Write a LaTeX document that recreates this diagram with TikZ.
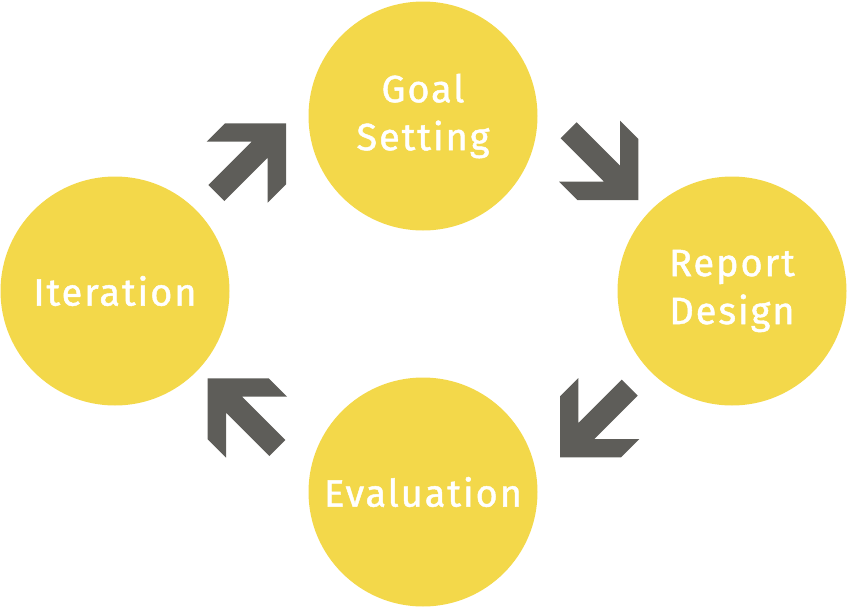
\documentclass[tikz,border=0pt]{standalone}
\usepackage{fontspec}
\setmainfont{Fira Sans}[LetterSpace=5, FakeBold=1.2]
\definecolor{cyellow}{HTML}{F3D84A}
\definecolor{cgray}{HTML}{5E5D59}
\tikzset{
  stage/.style={circle, fill=cyellow, minimum size=229pt, inner sep=0pt,
    text=white, align=center, font=\fontsize{38}{48}\selectfont},
  chev/.pic={
    \fill[cgray] (0,0) -- (-61,0) -- (-79.3,18.3) -- (-34.3,18.3) -- (-77.7,61.7)
      -- (-61.7,77.7) -- (-18.3,34.3) -- (-18.3,79.3) -- (0,61) -- cycle;
  }
}
\begin{document}
\begin{tikzpicture}[x=1pt,y=-1pt]
\useasboundingbox (0,0) rectangle (847,608);
\node[stage] (goal) at (423,116) {Goal\\Setting};
\node[stage] (report) at (732,291) {Report\\Design};
\node[stage] (eval) at (423,492) {Evaluation};
\node[stage] (iter) at (115,291) {Iteration};
\pic at (286,123.3) {chev};
\pic[rotate=-90] at (638.3,200) {chev};
\pic[rotate=180] at (560,457.3) {chev};
\pic[rotate=90] at (207.7,378.3) {chev};
\end{tikzpicture}
\end{document}
